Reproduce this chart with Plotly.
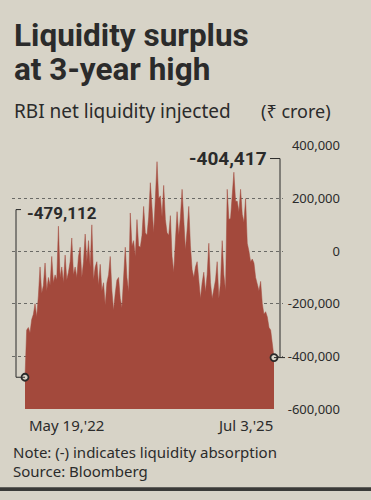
import pandas as pd
import plotly.graph_objects as go

START_DATE = "2022-05-19"
END_DATE = "2025-07-03"

# RBI net liquidity injected (₹ crore) left to right
liquidity = [
    -479112, -300000, -290000, -310000, -260000, -240000, -200000, -250000, -170000, -60000,
    -160000, -130000, -45000, -150000, -100000, -130000, -20000, -120000, -90000, -110000,
    95000, -100000, -60000, -120000, -15000, -110000, -80000, -40000, 50000, -90000,
    -60000, -100000, -20000, 15000, -100000, -40000, 65000, -40000, 40000, -60000,
    100000, -110000, -60000, -40000, -130000, -50000, -150000, -120000, -205000, -120000,
    -90000, -20000, -150000, -225000, -160000, -110000, -100000, -180000, -215000, -120000,
    15000, -100000, -155000, 145000, 20000, 40000, -20000, 120000, 20000, 15000,
    60000, 170000, 70000, 60000, 130000, 260000, 150000, 70000, 200000, 340000,
    200000, 210000, 130000, 250000, 120000, 70000, 60000, 135000, -20000, -80000,
    40000, 150000, 60000, 130000, 235000, 110000, 5000, 80000, 170000, 20000,
    -70000, -100000, -60000, -40000, -130000, -180000, -120000, -80000, -155000, -90000,
    30000, -120000, -180000, -150000, -110000, -40000, -180000, -120000, 40000, -90000,
    -150000, 235000, 120000, 125000, 200000, 300000, 190000, 190000, 150000, 235000,
    140000, 110000, 200000, 30000, 0, -40000, -30000, -45000, -100000, -130000,
    -150000, -115000, -200000, -240000, -230000, -250000, -290000, -300000, -350000, -404417,
]

y_ticks = [400000, 200000, 0, -200000, -400000, -600000]
y_tick_labels = ["400,000", "200,000", "0", "-200,000", "-400,000", "-600,000"]
start_label = "May 19,'22"
end_label = "Jul 3,'25"
first_label = "-479,112"
last_label = "-404,417"

dates = pd.date_range(START_DATE, END_DATE, periods=len(liquidity))

W, H = 371, 500
BG = "#d7d3c7"
RED = "#a3493c"
INK = "#2b2b2b"
Y_MIN, Y_MAX = -600000, 400000

span = dates[-1] - dates[0]
x_range = [dates[0] - span * (13 / 249), dates[-1] + span * (9 / 249)]

def px(x):
    return x / W

def py(y):
    return 1 - y / H

fig = go.Figure()
fig.add_trace(go.Scatter(x=dates, y=[Y_MIN] * len(dates), mode="lines",
                         line=dict(width=0, color=RED), hoverinfo="skip", showlegend=False))
fig.add_trace(go.Scatter(x=dates, y=liquidity, mode="lines", fill="tonexty",
                         fillcolor=RED, line=dict(width=0.5, color=RED), showlegend=False))
fig.add_trace(go.Scatter(x=[dates[0], dates[-1]], y=[liquidity[0], liquidity[-1]], mode="markers",
                         marker=dict(size=7, color=BG, line=dict(color=INK, width=1.8)),
                         showlegend=False, cliponaxis=False))

fig.update_layout(
    width=W, height=H, margin=dict(l=0, r=0, t=0, b=0),
    paper_bgcolor=BG, plot_bgcolor=BG,
    font=dict(family="Noto Sans", color=INK),
    xaxis=dict(domain=[px(12), px(283)], range=x_range, showgrid=False, showticklabels=False,
               zeroline=False, showline=False, ticks=""),
    yaxis=dict(domain=[py(415), py(142)], range=[Y_MIN, Y_MAX], tickvals=y_ticks,
               ticktext=y_tick_labels, showgrid=True, gridcolor="#6a6a66", griddash="dot",
               gridwidth=1, zeroline=False, showline=False, ticks="", side="left",
               anchor="free", position=px(340), tickfont=dict(size=13, color=INK)),
)

ann = [
    dict(text="<b>Liquidity surplus</b>", x=px(12), y=py(27), font=dict(family="Roboto", size=31.5)),
    dict(text="<b>at 3-year high</b>", x=px(12), y=py(63), font=dict(family="Roboto", size=31.5)),
    dict(text="RBI net liquidity injected", x=px(12), y=py(106), font=dict(size=19)),
    dict(text="(₹ crore)", x=px(333), y=py(106), xanchor="right", font=dict(size=18)),
    dict(text=start_label, x=px(27), y=py(432), font=dict(size=15)),
    dict(text=end_label, x=px(275), y=py(432), xanchor="right", font=dict(size=15)),
    dict(text="Note: (-) indicates liquidity absorption", x=px(11), y=py(460), font=dict(size=15)),
    dict(text="Source: Bloomberg", x=px(11), y=py(479), font=dict(size=15)),
    dict(text="<b>" + first_label + "</b>", x=px(25), y=py(212), font=dict(family="Roboto", size=17)),
    dict(text="<b>" + last_label + "</b>", x=px(269), y=py(155), xanchor="right",
         font=dict(family="Roboto", size=19)),
]
for a in ann:
    a.setdefault("xanchor", "left")
    a.update(xref="paper", yref="paper", yanchor="middle", showarrow=False)
    a["font"].setdefault("color", INK)
fig.update_layout(annotations=ann)

LEFT_TOP = 158000
RIGHT_TOP = 352000
line = dict(color=INK, width=1)
shapes = [
    dict(type="line", xref="paper", yref="y", x0=px(16), x1=px(16), y0=LEFT_TOP, y1=liquidity[0], line=line),
    dict(type="line", xref="paper", yref="y", x0=px(16), x1=px(21), y0=LEFT_TOP, y1=LEFT_TOP, line=line),
    dict(type="line", xref="paper", yref="y", x0=px(16), x1=px(25), y0=liquidity[0], y1=liquidity[0], line=line),
    dict(type="line", xref="paper", yref="y", x0=px(280), x1=px(280), y0=RIGHT_TOP, y1=liquidity[-1], line=line),
    dict(type="line", xref="paper", yref="y", x0=px(270), x1=px(280), y0=RIGHT_TOP, y1=RIGHT_TOP, line=line),
    dict(type="line", xref="paper", yref="y", x0=px(274), x1=px(285), y0=liquidity[-1], y1=liquidity[-1], line=line),
    dict(type="rect", xref="paper", yref="paper", x0=0, x1=1, y0=0, y1=py(496),
         fillcolor="#3a3a38", line=dict(width=0), layer="below"),
]
fig.update_layout(shapes=shapes)

fig.write_html("out.html", post_script="document.body.style.margin='0';",
               config={"displayModeBar": False})
